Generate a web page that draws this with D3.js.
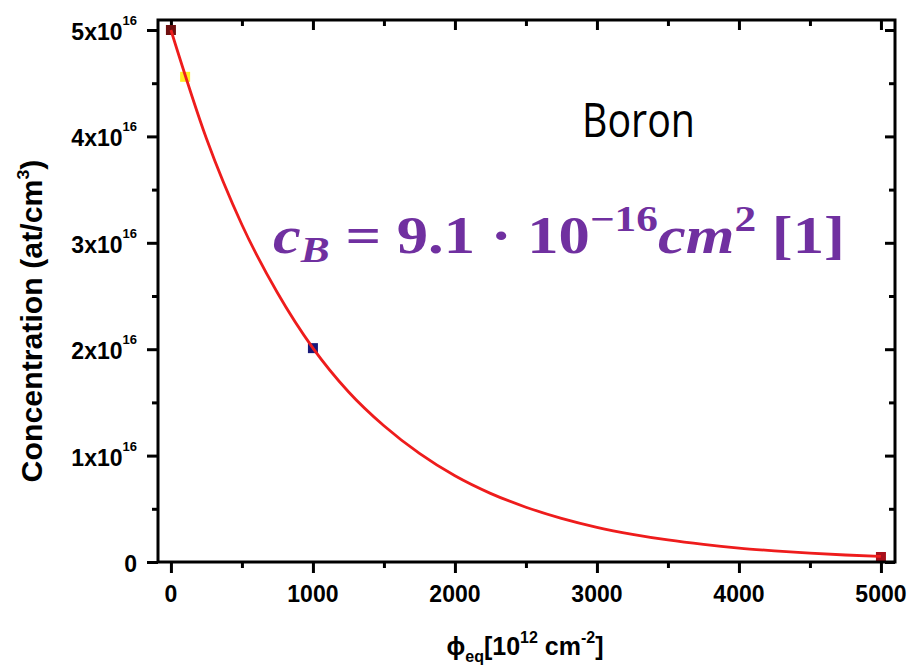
<!DOCTYPE html>
<html>
<head>
<meta charset="utf-8">
<script src="https://cdn.jsdelivr.net/npm/d3@7"></script>
<style>
  html, body { margin: 0; padding: 0; background: #ffffff; }
  svg { display: block; }
</style>
</head>
<body>
<svg id="chart" width="910" height="670"></svg>
<script>
// ---- data (concentration in units of 1e16 at/cm^3, fluence in 1e12 cm^-2) ----
const fitPhi   = [0, 250, 500, 750, 1000, 1250, 1500, 1750, 2000, 2250, 2500, 2750, 3000, 3250, 3500, 3750, 4000, 4250, 4500, 4750, 5000];
const fitConc  = [5.00, 3.98, 3.17, 2.53, 2.01, 1.60, 1.28, 1.02, 0.81, 0.645, 0.515, 0.41, 0.326, 0.26, 0.207, 0.165, 0.131, 0.105, 0.083, 0.066, 0.053];
const pointPhi  = [0, 100, 1000, 5000];
const pointConc = [5.00, 4.56, 2.01, 0.047];
const pointColor = ["#6e1010", "#ffee22", "#18187a", "#a8101c"];
const xTicks = [0, 1000, 2000, 3000, 4000, 5000];
const xMinor = [500, 1500, 2500, 3500, 4500];
const yTicks = [0, 1, 2, 3, 4, 5];
const yMinor = [0.5, 1.5, 2.5, 3.5, 4.5];
const yTickMant = ["0", "1x10", "2x10", "3x10", "4x10", "5x10"];
const yTickExp  = ["", "16", "16", "16", "16", "16"];

const svg = d3.select("#chart");
const L = 158, R = 895, T = 20, B = 562;
const x = d3.scaleLinear().domain([-91, 5099]).range([L, R]);
const y = d3.scaleLinear().domain([0, 5]).range([B, 30]);

const font = "'Liberation Sans', Arial, sans-serif";

// axes ticks
const g = svg.append("g");
function ticks(axisFn, tr, vals, size) {
  g.append("g").attr("transform", tr)
    .call(axisFn.tickValues(vals).tickSize(size).tickFormat(""))
    .call(a => a.select(".domain").remove());
}
ticks(d3.axisBottom(x), `translate(0,${B})`, xTicks, 11);
ticks(d3.axisBottom(x), `translate(0,${B})`, xMinor, 6);
ticks(d3.axisBottom(x), `translate(0,${T})`, xTicks, 10);
ticks(d3.axisBottom(x), `translate(0,${T})`, xMinor, 6);
ticks(d3.axisLeft(y), `translate(${L},0)`, yTicks, 11);
ticks(d3.axisLeft(y), `translate(${L},0)`, yMinor, 6);
ticks(d3.axisLeft(y), `translate(${R},0)`, yTicks, 10);
ticks(d3.axisLeft(y), `translate(${R},0)`, yMinor, 6);
g.selectAll(".tick line").attr("stroke", "#000").attr("stroke-width", 3);

// tick labels x
svg.append("g").selectAll("text").data(xTicks).join("text")
  .attr("x", d => x(d)).attr("y", 602)
  .attr("text-anchor", "middle")
  .attr("font-family", font).attr("font-weight", "bold").attr("font-size", 23)
  .text(d => d);

// tick labels y
const yl = svg.append("g").selectAll("text").data(yTicks).join("text")
  .attr("x", 137).attr("y", d => y(d) + 10)
  .attr("text-anchor", "end")
  .attr("font-family", font).attr("font-weight", "bold").attr("font-size", 23);
yl.append("tspan").text((d, i) => yTickMant[i]);
yl.append("tspan").attr("font-size", 13).attr("dy", (d, i) => yTickExp[i] ? -15 : 0)
  .text((d, i) => yTickExp[i]);

// markers
svg.append("g").selectAll("rect").data(pointPhi).join("rect")
  .attr("x", (d) => x(d) - 5).attr("y", (d, i) => y(pointConc[i]) - 5)
  .attr("width", 10).attr("height", 10)
  .attr("fill", (d, i) => pointColor[i]);

// fit curve
const fit = fitPhi.map((p, i) => [p, fitConc[i]]);
svg.append("path").datum(fit)
  .attr("d", d3.line().x(d => x(d[0])).y(d => y(d[1])).curve(d3.curveMonotoneX))
  .attr("fill", "none").attr("stroke", "#ee1c1c").attr("stroke-width", 2.8);

// frame
svg.append("rect").attr("x", L).attr("y", T).attr("width", R - L).attr("height", B - T)
  .attr("fill", "none").attr("stroke", "#000").attr("stroke-width", 3);

// y-axis label
const ylab = svg.append("text")
  .attr("text-anchor", "middle")
  .attr("font-family", font).attr("font-weight", "bold").attr("font-size", 29);
ylab.append("tspan").text("Concentration (at/cm");
ylab.append("tspan").attr("font-size", 17).attr("dy", -13).text("3");
ylab.append("tspan").attr("dy", 13).text(")");
{
  const bb = ylab.node().getBBox();
  const s = 323 / bb.width;
  ylab.attr("transform", `translate(42,321) rotate(-90) scale(${s},1)`);
}

// x-axis label
const xlab = svg.append("text")
  .attr("x", 525).attr("y", 655)
  .attr("text-anchor", "middle")
  .attr("font-family", font).attr("font-weight", "bold").attr("font-size", 25);
xlab.append("tspan").text("ϕ");
xlab.append("tspan").attr("font-size", 16).attr("dy", 7).text("eq");
xlab.append("tspan").attr("dy", -7).text("[10");
xlab.append("tspan").attr("font-size", 16).attr("dy", -12).text("12");
xlab.append("tspan").attr("dy", 12).text(" cm");
xlab.append("tspan").attr("font-size", 16).attr("dy", -12).text("-2");
xlab.append("tspan").attr("dy", 12).text("]");

// helper to fit a text box (baseline at y=0) into a width, with a vertical stretch
function fitBox(sel, x0, base, w, sy) {
  const bb = sel.node().getBBox();
  const s = w / bb.width;
  sel.attr("transform", `translate(${x0},${base}) scale(${s},${sy}) translate(${-bb.x},0)`);
}

// "Boron"
const boron = svg.append("text")
  .attr("x", 0).attr("y", 0)
  .attr("font-family", "'Open Sans', 'Noto Sans', sans-serif").attr("font-size", 45)
  .attr("fill", "#000").text("Boron");
fitBox(boron, 582, 137, 113, 1.07);

// formula
const eq = svg.append("text")
  .attr("x", 0).attr("y", 0)
  .attr("font-family", "'Liberation Serif', 'DejaVu Serif', serif").attr("font-weight", "bold")
  .attr("font-size", 52).attr("fill", "#7030a0");
eq.append("tspan").attr("font-style", "italic").text("c");
eq.append("tspan").attr("font-style", "italic").attr("font-size", 36).attr("dy", 9).text("B");
eq.append("tspan").attr("dy", -9).text(" = 9.1 · 10");
eq.append("tspan").attr("font-size", 36).attr("dy", -22).text("−16");
eq.append("tspan").attr("font-style", "italic").attr("dy", 22).text("cm");
eq.append("tspan").attr("font-size", 36).attr("dy", -22).text("2");
eq.append("tspan").attr("dy", 22).text(" [1]");
fitBox(eq, 273, 253, 572, 1);
</script>
</body>
</html>
